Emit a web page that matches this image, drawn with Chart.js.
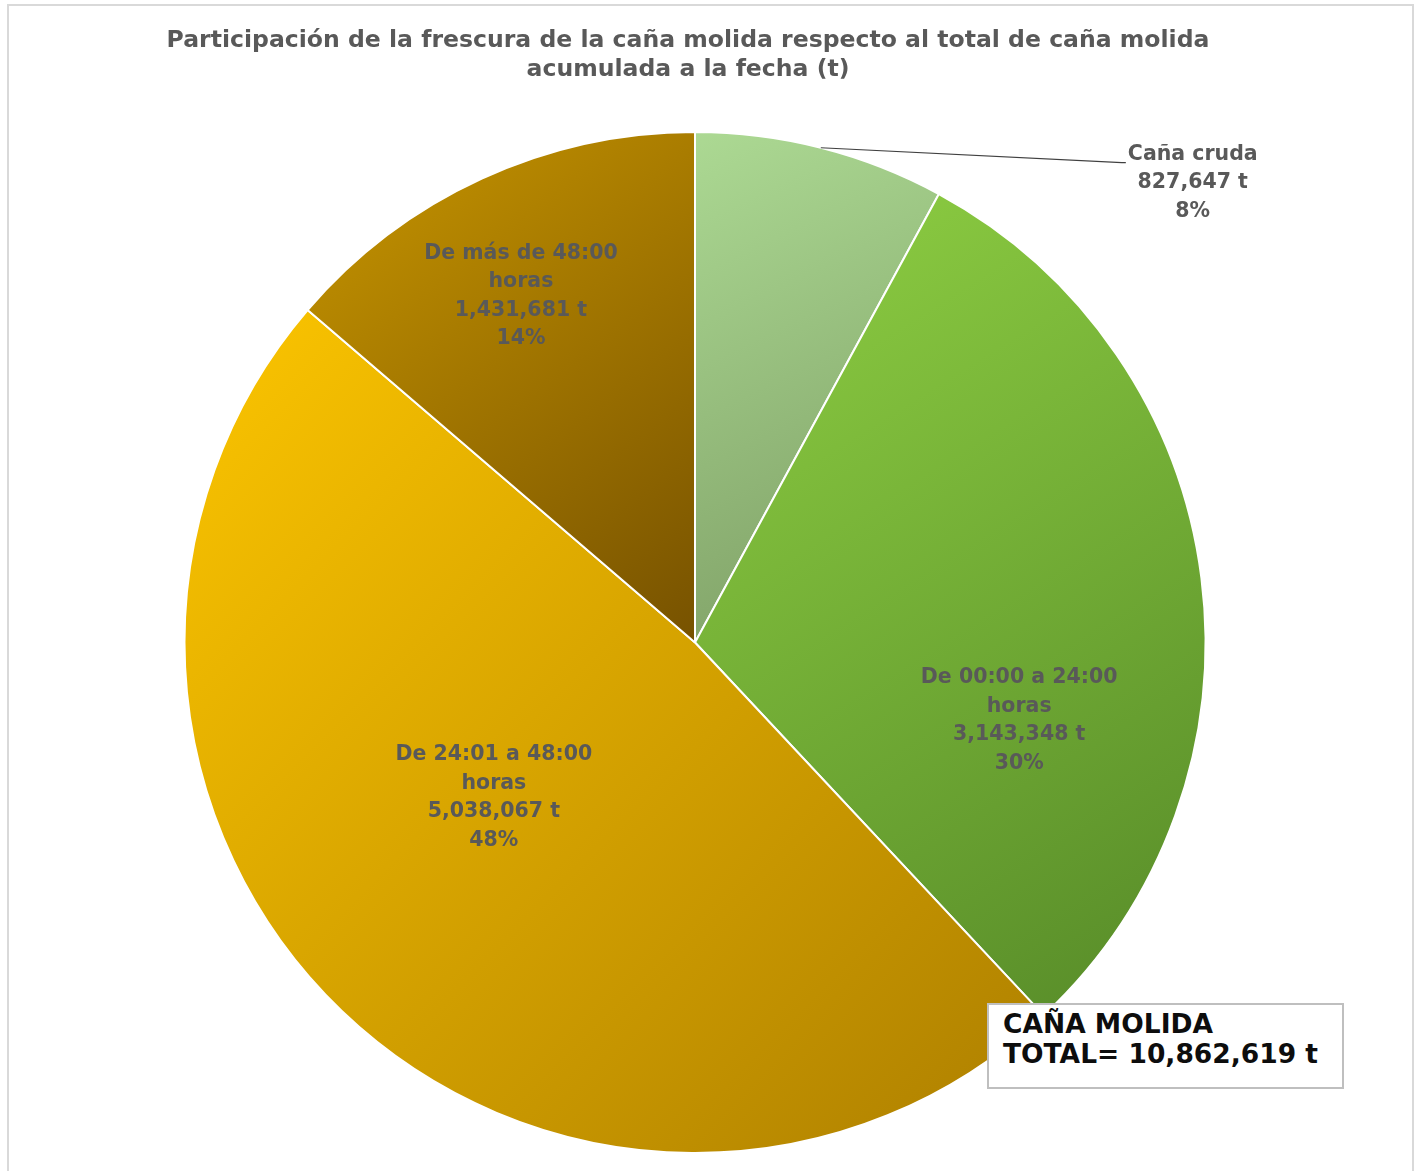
<!DOCTYPE html>
<html>
<head>
<meta charset="utf-8">
<script src="https://cdn.jsdelivr.net/npm/chart.js@4.4.1/dist/chart.umd.min.js"></script>
<style>
  html, body { margin: 0; padding: 0; background: #ffffff; overflow: hidden; }
  #frame { position: absolute; left: 7px; top: 4px; width: 1407px; height: 1190px; border: 2px solid #d9d9d9; box-sizing: border-box; }
  #wrap { position: absolute; left: 0; top: 0; width: 1421px; height: 1171px; }
  #total { position: absolute; left: 987px; top: 1003px; width: 357px; height: 86px; box-sizing: border-box;
           background: #ffffff; border: 2px solid #bfbfbf; font-family: "DejaVu Sans", sans-serif; font-weight: bold;
           font-size: 26.5px; line-height: 30px; color: #0d0d0d; padding: 4px 0 0 14px; white-space: nowrap; }
</style>
</head>
<body>
<div id="frame"></div>
<div id="wrap"><canvas id="c" width="1421" height="1171"></canvas></div>
<div id="total">CAÑA MOLIDA<br>TOTAL= 10,862,619 t</div>
<script>
const titleLines = ["Participación de la frescura de la caña molida respecto al total de caña molida", "acumulada a la fecha (t)"];
const categories = ["Caña cruda", "De 00:00 a 24:00 horas", "De 24:01 a 48:00 horas", "De más de 48:00 horas"];
const labelLines = [["Caña cruda"], ["De 00:00 a 24:00", "horas"], ["De 24:01 a 48:00", "horas"], ["De más de 48:00", "horas"]];
const values = [827647, 3143348, 5038067, 1431681];
const percentLabels = ["8%", "30%", "48%", "14%"];
const gradientStops = [["#acd993", "#7c9c63"], ["#8fd043", "#568a28"], ["#fcc500", "#ad7f00"], ["#c89600", "#775200"]];
// label anchors relative to pie centre, in fractions of the radius
const labelAnchors = [[0.975, -0.90], [0.635, 0.153], [-0.394, 0.304], [-0.341, -0.678]];

const FONT = '"DejaVu Sans", sans-serif';
function fmt(n) { return n.toLocaleString('en-US') + ' t'; }

function arcBBox(a) {
  const pts = [[a.x, a.y]];
  const s = a.startAngle, e = a.endAngle, r = a.outerRadius;
  pts.push([a.x + r * Math.cos(s), a.y + r * Math.sin(s)]);
  pts.push([a.x + r * Math.cos(e), a.y + r * Math.sin(e)]);
  for (let k = -4; k <= 8; k++) {
    const ang = k * Math.PI / 2;
    if (ang > s && ang < e) pts.push([a.x + r * Math.cos(ang), a.y + r * Math.sin(ang)]);
  }
  const xs = pts.map(p => p[0]), ys = pts.map(p => p[1]);
  return [Math.min(...xs), Math.min(...ys), Math.max(...xs), Math.max(...ys)];
}

const gradientPlugin = {
  id: 'grad',
  beforeDatasetsDraw(chart) {
    const ctx = chart.ctx;
    const meta = chart.getDatasetMeta(0);
    meta.data.forEach((arc, i) => {
      const b = arcBBox(arc);
      const g = ctx.createLinearGradient(b[0], b[1], b[2], b[3]);
      g.addColorStop(0, gradientStops[i][0]);
      g.addColorStop(1, gradientStops[i][1]);
      arc.options.backgroundColor = g;
    });
  }
};

const labelPlugin = {
  id: 'labels',
  afterDatasetsDraw(chart) {
    const ctx = chart.ctx;
    const meta = chart.getDatasetMeta(0);
    ctx.save();
    // title, fitted to the reference width
    ctx.fillStyle = '#595959';
    ctx.textAlign = 'center';
    ctx.textBaseline = 'middle';
    ctx.font = 'bold 20px ' + FONT;
    const w20 = ctx.measureText(titleLines[0]).width;
    const ts = Math.min(24, 20 * 1043 / w20);
    ctx.font = 'bold ' + ts.toFixed(2) + 'px ' + FONT;
    ctx.fillText(titleLines[0], 688, 41);
    ctx.fillText(titleLines[1], 688, 70);
    meta.data.forEach((arc, i) => {
      const cx = arc.x, cy = arc.y, R = arc.outerRadius;
      const lx = cx + labelAnchors[i][0] * R;
      const ly = cy + labelAnchors[i][1] * R;
      const lines = labelLines[i].concat([fmt(values[i]), percentLabels[i]]);
      ctx.font = 'bold 20.5px ' + FONT;
      ctx.fillStyle = '#595959';
      ctx.textAlign = 'center';
      ctx.textBaseline = 'middle';
      const lh = 28.5;
      const y0 = ly - (lines.length - 1) * lh / 2;
      lines.forEach((t, k) => ctx.fillText(t, lx, y0 + k * lh));
      if (i === 0) {
        const mid = (arc.startAngle + arc.endAngle) / 2;
        const sx = cx + R * Math.cos(mid), sy = cy + R * Math.sin(mid);
        const w = ctx.measureText(lines[0]).width;
        const ex = lx - w / 2 - 2, ey = y0 + 8;
        ctx.strokeStyle = '#404040';
        ctx.lineWidth = 1.2;
        ctx.beginPath();
        ctx.moveTo(sx, sy);
        ctx.lineTo(ex - 4, ey);
        ctx.lineTo(ex, ey);
        ctx.stroke();
      }
    });
    ctx.restore();
  }
};

new Chart(document.getElementById('c'), {
  type: 'pie',
  data: {
    labels: categories,
    datasets: [{
      data: values,
      backgroundColor: gradientStops.map(s => s[0]),
      borderColor: '#ffffff',
      borderWidth: 2
    }]
  },
  options: {
    responsive: false,
    animation: false,
    layout: { padding: { top: 131, bottom: 17, left: 183, right: 214 } },
    plugins: { legend: { display: false }, tooltip: { enabled: false }, title: { display: false } }
  },
  plugins: [gradientPlugin, labelPlugin]
});
</script>
</body>
</html>
